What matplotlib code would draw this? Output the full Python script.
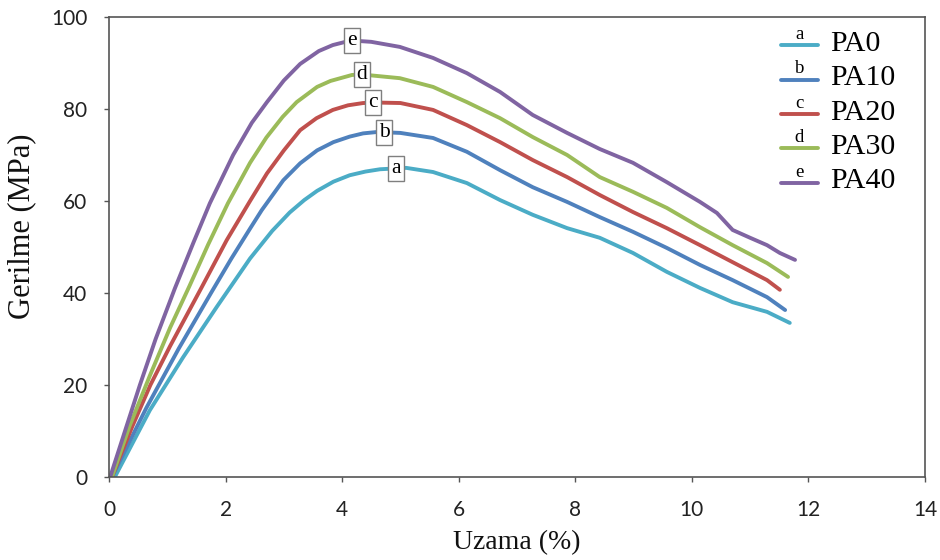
import matplotlib
matplotlib.use("Agg")
import matplotlib.pyplot as plt
import numpy as np
from matplotlib.legend_handler import HandlerLine2D
from matplotlib.text import Text
from matplotlib.lines import Line2D

# ---------------- data ----------------
series_names = ["PA0", "PA10", "PA20", "PA30", "PA40"]
series_letters = ["a", "b", "c", "d", "e"]
series_colors = ["#4BACC6", "#4F81BD", "#C0504D", "#9BBB59", "#8064A2"]

pa0_x = [0.1, 0.7, 1.27, 1.85, 2.42, 2.8, 3.1, 3.35, 3.57, 3.85, 4.13, 4.4, 4.65,
         5.1, 5.56, 6.14, 6.71, 7.27, 7.86, 8.42, 8.99, 9.57, 10.14, 10.7, 11.29, 11.68]
pa0_y = [0, 14.5, 26, 37, 47.5, 53.5, 57.5, 60.2, 62.2, 64.2, 65.6, 66.4, 66.9,
         67.2, 66.3, 63.9, 60.2, 57, 54.1, 52, 48.7, 44.6, 41.1, 38, 35.9, 33.5]

pa10_x = [0.05, 0.64, 1.2, 1.75, 2.1, 2.42, 2.62, 2.99, 3.28, 3.57, 3.85, 4.13, 4.36,
          4.6, 5.0, 5.56, 6.14, 6.71, 7.27, 7.86, 8.42, 8.99, 9.57, 10.14, 10.7,
          11.29, 11.6]
pa10_y = [0, 15, 28, 40, 47.5, 54, 58, 64.5, 68.2, 71, 72.8, 74, 74.7,
          75, 74.8, 73.7, 70.7, 66.7, 63, 59.8, 56.5, 53.3, 49.8, 46.1, 42.8,
          39.1, 36.3]

pa20_x = [0.05, 0.4, 0.71, 1.05, 1.58, 2.02, 2.42, 2.71, 3.0, 3.28, 3.56, 3.84, 4.1,
          4.36, 4.6, 5.0, 5.56, 6.14, 6.71, 7.27, 7.86, 8.42, 8.99, 9.57, 10.14,
          10.7, 11.29, 11.51]
pa20_y = [0, 11, 20, 28.5, 41, 51.5, 60, 66, 71, 75.4, 78, 79.8, 80.8,
          81.3, 81.4, 81.3, 79.8, 76.5, 72.8, 68.9, 65.2, 61.3, 57.6, 54.1, 50.4,
          46.7, 42.8, 40.7]

pa30_x = [0.05, 0.35, 0.7, 1.05, 1.38, 1.7, 2.04, 2.42, 2.7, 2.98, 3.22, 3.57, 3.8,
          4.17, 4.34, 4.99, 5.56, 6.14, 6.71, 7.27, 7.86, 8.42, 8.99, 9.57, 10.14,
          10.7, 11.29, 11.65]
pa30_y = [0, 11, 22, 32.5, 41.5, 50.5, 59.5, 68.3, 73.8, 78.3, 81.5, 84.8, 86.1,
          87.4, 87.5, 86.7, 84.8, 81.5, 78, 73.9, 70, 65.2, 62, 58.5, 54.3,
          50.4, 46.5, 43.5]

pa40_x = [0.02, 0.3, 0.53, 0.8, 1.13, 1.45, 1.73, 2.13, 2.45, 2.71, 3.0, 3.28, 3.6,
          3.84, 4.15, 4.5, 4.99, 5.56, 6.14, 6.71, 7.27, 7.86, 8.42, 8.99, 9.57,
          10.14, 10.43, 10.7, 11.0, 11.29, 11.51, 11.77]
pa40_y = [0, 11, 20, 30, 41, 51, 59.5, 70, 77, 81.5, 86.2, 89.8, 92.6,
          93.9, 94.9, 94.6, 93.5, 91.1, 87.8, 83.7, 78.7, 74.8, 71.3, 68.3, 64.1,
          59.8, 57.4, 53.7, 52, 50.4, 48.7, 47.2]

label_x = [4.92, 4.72, 4.53, 4.34, 4.17]

xs = [pa0_x, pa10_x, pa20_x, pa30_x, pa40_x]
ys = [pa0_y, pa10_y, pa20_y, pa30_y, pa40_y]

x_ticks = [0, 2, 4, 6, 8, 10, 12, 14]
y_ticks = [0, 20, 40, 60, 80, 100]

SERIF = ["Liberation Serif", "DejaVu Serif"]
SANS = ["Lato", "DejaVu Sans"]


class LetterHandler(HandlerLine2D):
    def __init__(self, letter, **kw):
        super().__init__(**kw)
        self.letter = letter

    def create_artists(self, legend, orig_handle, xdescent, ydescent,
                       width, height, fontsize, trans):
        arts = super().create_artists(legend, orig_handle, xdescent, ydescent,
                                      width, height, fontsize, trans)
        y_line = (height - ydescent) / 2 - 3.5
        for a in arts:
            if isinstance(a, Line2D):
                a.set_ydata(np.full_like(np.asarray(a.get_xdata(), float), y_line))
        t = Text(width / 2 - xdescent, y_line + 1.5, self.letter,
                 ha="center", va="bottom", fontsize=13.5,
                 family=SERIF, color="black")
        t.set_transform(trans)
        return list(arts) + [t]


fig = plt.figure(figsize=(9.4, 5.6), dpi=100)
ax = fig.add_axes([109 / 940, 83 / 560, 816 / 940, 460 / 560])

handles = []
for x, y, c in zip(xs, ys, series_colors):
    (ln,) = ax.plot(x, y, color=c, lw=2.8, solid_capstyle="round",
                    solid_joinstyle="round")
    handles.append(ln)

for lx, x, y, letter in zip(label_x, xs, ys, series_letters):
    ly = float(np.interp(lx, x, y))
    ax.text(lx, ly, letter, ha="center", va="center", fontsize=15.5,
            family=SERIF, zorder=5,
            bbox=dict(boxstyle="square,pad=0.14", fc="white", ec="#7f7f7f", lw=1.0))

ax.set_xlim(0, 14)
ax.set_ylim(0, 100)
ax.set_xticks(x_ticks)
ax.set_yticks(y_ticks)
ax.tick_params(axis="both", direction="out", length=3.6, width=1.0,
               color="#555555", labelsize=15, labelcolor="#222222")
ax.tick_params(axis="y", pad=12)
ax.tick_params(axis="x", pad=13)
for lbl in ax.get_xticklabels() + ax.get_yticklabels():
    lbl.set_family(SANS)
for s in ax.spines.values():
    s.set_color("#555555")
    s.set_linewidth(1.2)

ax.set_xlabel("Uzama (%)", family=SERIF, fontsize=20, color="#111111", va="center")
ax.set_ylabel("Gerilme (MPa)", family=SERIF, fontsize=22, color="#111111",
              va="center", ha="center")
ax.xaxis.set_label_coords(0.5, -0.143)
ax.yaxis.set_label_coords(-0.107, 0.545)

hmap = {h: LetterHandler(l) for h, l in zip(handles, series_letters)}
ax.legend(handles, series_names, handler_map=hmap, loc="upper left",
          bbox_to_anchor=(0.823, 0.972), frameon=False,
          prop={"family": SERIF, "size": 21.5}, handlelength=1.25,
          handletextpad=0.4, labelspacing=0.25, borderpad=0, borderaxespad=0)

fig.savefig("out.png", dpi=100, facecolor="white")
